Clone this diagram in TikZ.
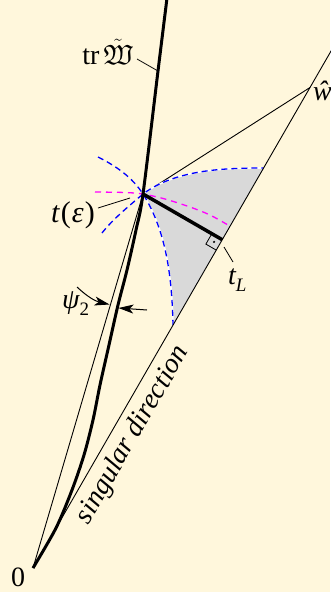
\documentclass[tikz,border=0pt]{standalone}
\usepackage{amssymb}
\usepackage{fontspec}
\setmainfont{Liberation Serif}
\usetikzlibrary{calc,arrows.meta}
\definecolor{bg}{HTML}{FFF7DC}
\definecolor{regiongray}{HTML}{D9D9D9}
\definecolor{mag}{RGB}{255,0,255}
\definecolor{blu}{RGB}{0,0,255}
\newcommand{\subsz}[1]{\raisebox{-0.28em}{\fontsize{19}{22}\selectfont #1}}
\begin{document}
\begin{tikzpicture}[x=1pt,y=-1pt,
  thinline/.style={line width=0.9pt},
  thickline/.style={line width=3pt},
  leader/.style={line width=0.8pt},
  bluedash/.style={blu,line width=1.3pt,dash pattern=on 6pt off 4pt},
  magdash/.style={mag,line width=1.3pt,dash pattern=on 6pt off 5pt},
  lbl/.style={inner sep=0pt,font=\fontsize{28}{32}\selectfont},
  tipline/.style={-{Stealth[length=15pt,width=9pt,inset=4pt]},line width=1pt}]
\useasboundingbox (0,0) rectangle (330,592);
\fill[bg] (0,0) rectangle (330,592);
% key points
\coordinate (O) at (33,568);
\coordinate (P) at (143,194);
\coordinate (W) at (310,87.5);
\coordinate (S) at ($(O)!1.25!(W)$);
\coordinate (A1) at (98,157);
\coordinate (A2) at (173,325);
\coordinate (B1) at (102,233);
\coordinate (B2) at (263.5,168);
\coordinate (F) at ($(O)!(P)!(W)$);
% line P -- w (partly under the shaded region)
\draw[thinline] (P) -- (W);
% shaded region
\fill[regiongray] (P) .. controls (167,232) and (172,280) .. (A2) -- (B2)
  .. controls (222,168) and (175,170) .. (P) -- cycle;
% white underlay of the inner arcs
\draw[white,line width=1.6pt] (P) .. controls (167,232) and (172,280) .. (A2);
\draw[white,line width=1.6pt] (P) .. controls (175,170) and (222,168) .. (B2);
% blue dashed curves
\draw[bluedash] (A1) .. controls (116,166) and (132,177) .. (P)
  .. controls (167,232) and (172,280) .. (A2);
\draw[bluedash] (B1) .. controls (113,219) and (129,206) .. (P)
  .. controls (175,170) and (222,168) .. (B2);
% magenta dashed curve
\draw[magdash] plot[smooth] coordinates {(95,192) (125,192.5) (143,194) (165,199) (190,207) (210,215) (228,225)};
% singular direction and thin line
\draw[thinline] (O) -- (S);
\draw[thinline] (O) -- (P);
% thick curve tr W
\draw[thickline] plot[smooth] coordinates {(33,568) (56,528) (72,490) (84,455) (93,420) (100,385) (109,345) (118,305) (127,270) (136,230) (143,194) (158,71) (168,-10)};
% thick segment t_L and right angle mark
\draw[line width=3.5pt] (P) -- (F);
\coordinate (Q1) at ($(F)!12pt!(P)$);
\coordinate (Q2) at ($(F)!12pt!(O)$);
\draw[line width=0.8pt] (Q1) -- ($(Q1)+(Q2)-(F)$) -- (Q2);
\fill ($(Q1)!0.5!(Q2)$) circle (1.2pt);
% psi_2 arrows
\coordinate (psiA) at (77,287);
\coordinate (psiAt) at (109.5,304.5);
\coordinate (psiB) at (147,310);
\coordinate (psiBt) at (118.5,308);
\draw[tipline] (psiA) to[bend right=15] (psiAt);
\draw[tipline] (psiB) -- (psiBt);
% labels
\node[lbl,anchor=base east] (trW) at (133,64) {tr$\,\tilde{\mathfrak{W}}$};
\coordinate (trWa) at (137,59);
\coordinate (trWb) at (158,71);
\draw[leader] (trWa) -- (trWb);
\node[lbl,anchor=base east] (teps) at (95,222) {\fontsize{30}{34}\selectfont\itshape t\kern1.5pt\upshape(\kern1pt\itshape ε\kern1pt\upshape)};
\coordinate (tepsa) at (98,208);
\coordinate (tepsb) at (130,198);
\draw[leader] (tepsa) -- (tepsb);
\node[lbl,anchor=base west] (tL) at (228,284) {\itshape t\subsz{L}};
\coordinate (tLa) at (224,247);
\coordinate (tLb) at (233,262);
\draw[leader] (tLa) -- (tLb);
\node[lbl,anchor=base west] (psi) at (62,308) {\itshape ψ\upshape\subsz{2}};
\node[lbl,anchor=base west] (w) at (313,100) {\itshape ŵ};
\node[lbl] (zero) at (18,577) {0};
\node[lbl,rotate=60,font=\fontsize{28}{32}\selectfont\itshape] (sing) at (133,435) {singular direction};
\end{tikzpicture}
\end{document}
